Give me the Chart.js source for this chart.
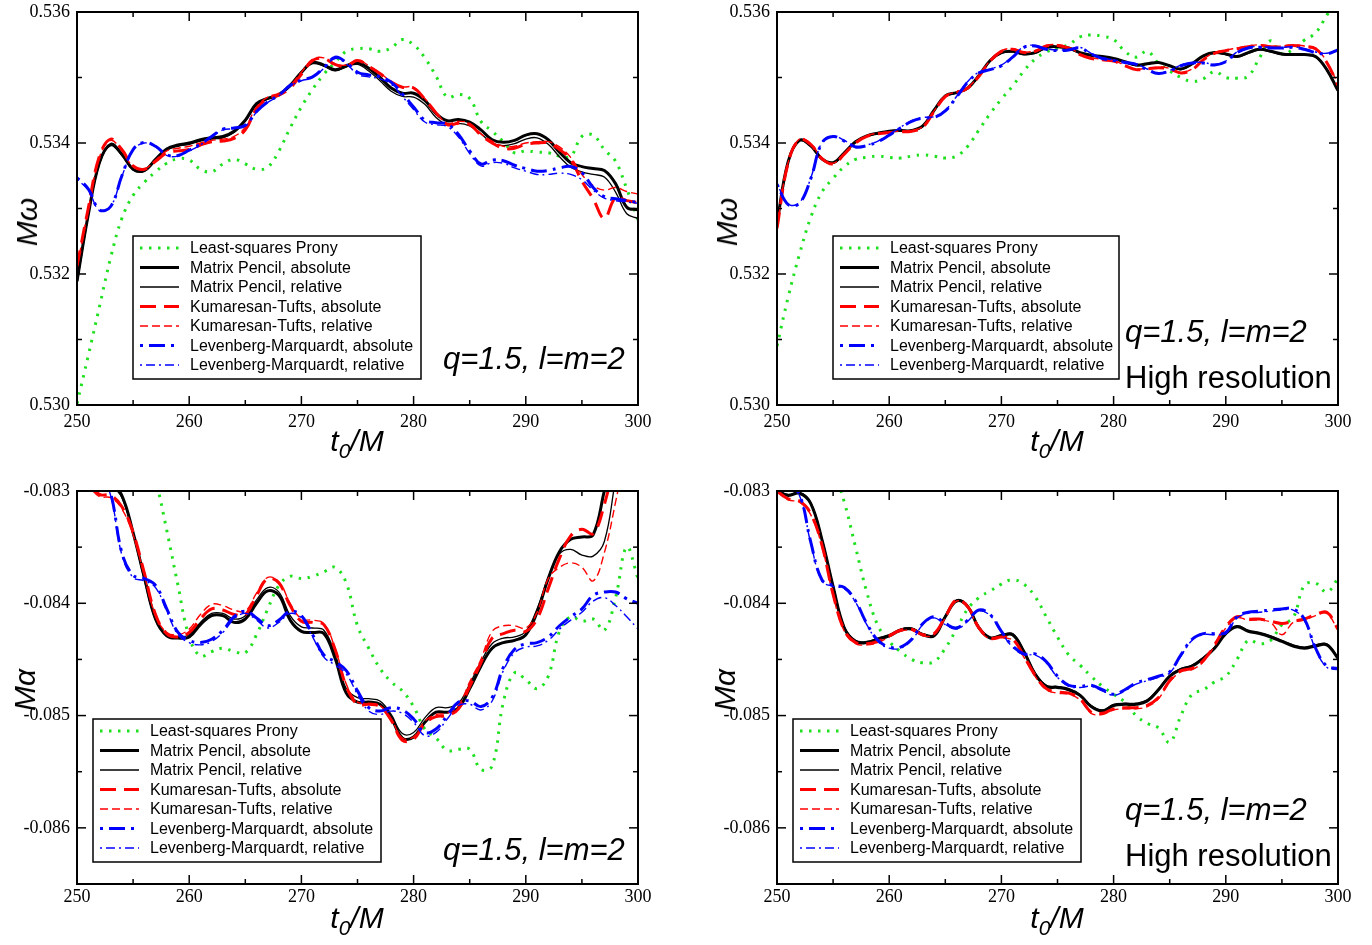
<!DOCTYPE html>
<html><head><meta charset="utf-8">
<script src="https://cdn.jsdelivr.net/npm/chart.js@4/dist/chart.umd.min.js"></script>
<style>
html,body{margin:0;padding:0;background:#fff;}
body{width:1372px;height:945px;position:relative;overflow:hidden;font-family:"Liberation Sans",Arial,sans-serif;}
canvas{position:absolute;}
.ytitle{position:absolute;font-size:30px;font-style:italic;transform:translate(-50%,-50%) rotate(-90deg);white-space:nowrap;line-height:1;}
.xtitle{position:absolute;font-size:30px;font-style:italic;transform:translate(-50%,-50%);white-space:nowrap;line-height:1;}
.xtitle sub{font-size:21px;vertical-align:-7px;}
.note{position:absolute;font-size:31px;white-space:nowrap;line-height:1;transform:translateY(-50%);}
.note.i{font-style:italic;}
</style></head>
<body>
<canvas id="c1" width="686" height="470" style="left:0;top:0"></canvas>
<canvas id="c2" width="672" height="470" style="left:700px;top:0"></canvas>
<canvas id="c3" width="686" height="465" style="left:0;top:480px"></canvas>
<canvas id="c4" width="672" height="465" style="left:700px;top:480px"></canvas>

<div class="ytitle" style="left:27px;top:222px">Mω</div>
<div class="ytitle" style="left:727px;top:222px">Mω</div>
<div class="ytitle" style="left:25px;top:690px">Mα</div>
<div class="ytitle" style="left:725px;top:690px">Mα</div>
<div class="xtitle" style="left:357px;top:443px">t<sub>0</sub>/M</div>
<div class="xtitle" style="left:1057px;top:443px">t<sub>0</sub>/M</div>
<div class="xtitle" style="left:357px;top:920px">t<sub>0</sub>/M</div>
<div class="xtitle" style="left:1057px;top:920px">t<sub>0</sub>/M</div>
<div class="note i" style="left:443px;top:358px">q=1.5, l=m=2</div>
<div class="note i" style="left:1125px;top:331px">q=1.5, l=m=2</div>
<div class="note" style="left:1125px;top:377px">High resolution</div>
<div class="note i" style="left:443px;top:849px">q=1.5, l=m=2</div>
<div class="note i" style="left:1125px;top:809px">q=1.5, l=m=2</div>
<div class="note" style="left:1125px;top:855px">High resolution</div>

<script>
// ---------------- data ----------------
const t0 = [250,251,252,253,254,255,256,257,258,259,260,261,262,263,264,265,266,267,268,269,270,271,272,273,274,275,276,277,278,279,280,281,282,283,284,285,286,287,288,289,290,291,292,293,294,295,296,297,298,299,300];
const seriesLabels = ['Least-squares Prony','Matrix Pencil, absolute','Matrix Pencil, relative','Kumaresan-Tufts, absolute','Kumaresan-Tufts, relative','Levenberg-Marquardt, absolute','Levenberg-Marquardt, relative'];
const xMajorTicks = [250,260,270,280,290,300];
const xMinorTicks = [255,265,275,285,295];
const omegaTicks = [0.530,0.532,0.534,0.536];
const omegaMinorTicks = [0.531,0.533,0.535];
const alphaTicks = [-0.086,-0.085,-0.084,-0.083];
const alphaMinorTicks = [-0.0865,-0.0855,-0.0845,-0.0835];

// Top-left: M omega
const tlProny = [0.53002,0.53075,0.53150,0.53225,0.53285,0.53320,0.53340,0.53356,0.53369,0.53376,
0.53374,0.53360,0.53356,0.53368,0.53375,0.53368,0.53360,0.53363,0.53388,0.53423,
0.53455,0.53482,0.53505,0.53523,0.53540,0.53544,0.53544,0.53540,0.53545,0.53558,
0.53550,0.53530,0.53502,0.53470,0.53474,0.53468,0.53433,0.53418,0.53402,0.53385,
0.53388,0.53386,0.53385,0.53380,0.53380,0.53410,0.53412,0.53390,0.53372,0.53330,
0.53283];
const tlMPabs = [0.53189,0.53290,0.53370,0.53398,0.53383,0.53360,0.53358,0.53375,0.53391,0.53397,
0.53400,0.53405,0.53408,0.53410,0.53418,0.53435,0.53460,0.53468,0.53474,0.53488,
0.53508,0.53523,0.53519,0.53512,0.53518,0.53523,0.53514,0.53500,0.53484,0.53476,
0.53476,0.53465,0.53445,0.53434,0.53436,0.53432,0.53420,0.53405,0.53401,0.53404,
0.53412,0.53414,0.53405,0.53386,0.53370,0.53364,0.53361,0.53358,0.53338,0.53302,
0.53298];
const tlMPrel = [0.53185,0.53288,0.53368,0.53396,0.53381,0.53359,0.53357,0.53373,0.53389,0.53395,
0.53398,0.53403,0.53406,0.53408,0.53416,0.53433,0.53458,0.53467,0.53473,0.53486,
0.53506,0.53521,0.53517,0.53510,0.53516,0.53520,0.53510,0.53495,0.53479,0.53471,
0.53470,0.53459,0.53439,0.53428,0.53430,0.53426,0.53414,0.53400,0.53396,0.53399,
0.53406,0.53408,0.53398,0.53379,0.53363,0.53356,0.53352,0.53348,0.53325,0.53292,
0.53285];
const tlKTabs = [0.53212,0.53300,0.53380,0.53406,0.53390,0.53365,0.53360,0.53372,0.53385,0.53388,
0.53390,0.53397,0.53402,0.53403,0.53407,0.53420,0.53452,0.53468,0.53473,0.53484,
0.53505,0.53526,0.53529,0.53520,0.53517,0.53526,0.53517,0.53506,0.53493,0.53485,
0.53484,0.53467,0.53446,0.53428,0.53430,0.53428,0.53412,0.53400,0.53392,0.53392,
0.53398,0.53400,0.53400,0.53390,0.53375,0.53342,0.53315,0.53285,0.53316,0.53312,
0.53309];
const tlKTrel = [0.53210,0.53298,0.53378,0.53404,0.53388,0.53364,0.53360,0.53374,0.53388,0.53392,
0.53395,0.53400,0.53404,0.53406,0.53410,0.53424,0.53455,0.53470,0.53476,0.53488,
0.53508,0.53528,0.53530,0.53521,0.53519,0.53527,0.53518,0.53507,0.53494,0.53486,
0.53485,0.53468,0.53447,0.53430,0.53433,0.53430,0.53414,0.53403,0.53395,0.53395,
0.53400,0.53402,0.53402,0.53394,0.53378,0.53352,0.53335,0.53328,0.53332,0.53326,
0.53322];
const tlLMabs = [0.53347,0.53330,0.53298,0.53303,0.53350,0.53390,0.53401,0.53395,0.53382,0.53381,
0.53389,0.53398,0.53410,0.53421,0.53423,0.53427,0.53448,0.53463,0.53473,0.53488,
0.53496,0.53501,0.53515,0.53531,0.53523,0.53508,0.53504,0.53501,0.53493,0.53475,
0.53455,0.53435,0.53431,0.53429,0.53413,0.53388,0.53368,0.53374,0.53373,0.53366,
0.53361,0.53357,0.53358,0.53362,0.53364,0.53355,0.53332,0.53318,0.53315,0.53312,
0.53309];
const tlLMrel = [0.53345,0.53328,0.53297,0.53303,0.53349,0.53389,0.53400,0.53394,0.53381,0.53380,
0.53388,0.53397,0.53409,0.53420,0.53422,0.53426,0.53447,0.53462,0.53472,0.53487,
0.53495,0.53500,0.53514,0.53529,0.53521,0.53505,0.53501,0.53498,0.53490,0.53471,
0.53451,0.53432,0.53428,0.53425,0.53409,0.53384,0.53365,0.53370,0.53369,0.53362,
0.53357,0.53352,0.53352,0.53354,0.53352,0.53344,0.53328,0.53316,0.53312,0.53310,
0.53308];

// Top-right: M omega, high resolution
const trProny = [0.53090,0.53165,0.53230,0.53286,0.53325,0.53346,0.53364,0.53375,0.53378,0.53380,
0.53378,0.53377,0.53380,0.53382,0.53380,0.53377,0.53380,0.53395,0.53420,0.53445,
0.53467,0.53487,0.53510,0.53528,0.53539,0.53545,0.53550,0.53562,0.53565,0.53563,
0.53558,0.53540,0.53531,0.53540,0.53522,0.53510,0.53500,0.53494,0.53498,0.53509,
0.53500,0.53499,0.53502,0.53530,0.53556,0.53536,0.53543,0.53557,0.53568,0.53595,
0.53620];
const trMPabs = [0.53278,0.53372,0.53404,0.53396,0.53376,0.53370,0.53385,0.53402,0.53411,0.53415,
0.53418,0.53419,0.53419,0.53426,0.53450,0.53472,0.53477,0.53484,0.53503,0.53526,
0.53538,0.53540,0.53536,0.53538,0.53546,0.53547,0.53545,0.53538,0.53534,0.53532,
0.53529,0.53524,0.53519,0.53521,0.53523,0.53518,0.53513,0.53521,0.53533,0.53538,
0.53536,0.53532,0.53538,0.53543,0.53540,0.53536,0.53535,0.53535,0.53532,0.53512,
0.53480];
const trMPrel = [0.53276,0.53370,0.53403,0.53395,0.53375,0.53369,0.53384,0.53401,0.53410,0.53414,
0.53417,0.53418,0.53418,0.53425,0.53449,0.53471,0.53476,0.53483,0.53502,0.53525,
0.53537,0.53539,0.53535,0.53537,0.53545,0.53546,0.53544,0.53537,0.53533,0.53531,
0.53528,0.53523,0.53518,0.53520,0.53522,0.53517,0.53512,0.53520,0.53532,0.53537,
0.53535,0.53531,0.53537,0.53542,0.53539,0.53535,0.53534,0.53534,0.53531,0.53511,
0.53479];
const trKTabs = [0.53270,0.53370,0.53405,0.53398,0.53376,0.53368,0.53383,0.53400,0.53410,0.53414,
0.53416,0.53417,0.53418,0.53424,0.53448,0.53471,0.53477,0.53484,0.53502,0.53525,
0.53540,0.53543,0.53538,0.53540,0.53548,0.53549,0.53545,0.53535,0.53529,0.53527,
0.53525,0.53518,0.53512,0.53513,0.53515,0.53513,0.53507,0.53512,0.53527,0.53537,
0.53541,0.53544,0.53547,0.53549,0.53547,0.53547,0.53549,0.53547,0.53544,0.53523,
0.53488];
const trKTrel = [0.53272,0.53371,0.53406,0.53399,0.53377,0.53369,0.53384,0.53401,0.53411,0.53415,
0.53417,0.53418,0.53419,0.53425,0.53449,0.53472,0.53478,0.53485,0.53503,0.53526,
0.53541,0.53544,0.53539,0.53541,0.53549,0.53550,0.53546,0.53536,0.53530,0.53528,
0.53526,0.53519,0.53513,0.53514,0.53516,0.53514,0.53508,0.53513,0.53528,0.53538,
0.53542,0.53545,0.53548,0.53550,0.53548,0.53548,0.53550,0.53548,0.53545,0.53524,
0.53490];
const trLMabs = [0.53337,0.53306,0.53308,0.53345,0.53400,0.53410,0.53403,0.53394,0.53396,0.53402,
0.53412,0.53423,0.53433,0.53438,0.53439,0.53449,0.53470,0.53493,0.53507,0.53512,
0.53518,0.53531,0.53546,0.53548,0.53543,0.53541,0.53542,0.53545,0.53536,0.53529,
0.53526,0.53523,0.53520,0.53512,0.53506,0.53510,0.53518,0.53522,0.53522,0.53519,
0.53524,0.53538,0.53545,0.53546,0.53545,0.53545,0.53546,0.53543,0.53538,0.53536,
0.53542];
const trLMrel = [0.53338,0.53307,0.53309,0.53346,0.53401,0.53411,0.53404,0.53395,0.53397,0.53403,
0.53413,0.53424,0.53434,0.53439,0.53440,0.53450,0.53471,0.53494,0.53508,0.53513,
0.53519,0.53532,0.53547,0.53549,0.53544,0.53542,0.53543,0.53546,0.53537,0.53530,
0.53527,0.53524,0.53521,0.53513,0.53507,0.53511,0.53519,0.53523,0.53523,0.53520,
0.53525,0.53539,0.53546,0.53547,0.53546,0.53546,0.53547,0.53544,0.53539,0.53537,
0.53543];

// Bottom-left: M alpha
const blProny = [-0.08100,-0.08120,-0.08140,-0.08170,-0.08200,-0.08230,-0.08260,-0.08290,-0.08335,-0.08384,
-0.08430,-0.08447,-0.08443,-0.08440,-0.08443,-0.08444,-0.08428,-0.08405,-0.08384,-0.08376,
-0.08378,-0.08376,-0.08372,-0.08368,-0.08382,-0.08420,-0.08440,-0.08458,-0.08470,-0.08478,
-0.08492,-0.08512,-0.08520,-0.08531,-0.08530,-0.08530,-0.08548,-0.08545,-0.08488,-0.08462,
-0.08468,-0.08476,-0.08465,-0.08425,-0.08412,-0.08416,-0.08414,-0.08424,-0.08395,-0.08350,
-0.08378];
const blMPabs = [-0.08270,-0.08278,-0.08285,-0.08292,-0.08304,-0.08337,-0.08377,-0.08414,-0.08429,-0.08431,
-0.08430,-0.08419,-0.08411,-0.08411,-0.08417,-0.08414,-0.08400,-0.08389,-0.08393,-0.08415,
-0.08425,-0.08426,-0.08427,-0.08449,-0.08480,-0.08488,-0.08488,-0.08490,-0.08502,-0.08520,
-0.08519,-0.08506,-0.08497,-0.08497,-0.08493,-0.08476,-0.08456,-0.08440,-0.08435,-0.08433,
-0.08428,-0.08408,-0.08378,-0.08354,-0.08343,-0.08341,-0.08339,-0.08300,-0.08260,-0.08230,
-0.08200];
const blMPrel = [-0.08270,-0.08278,-0.08286,-0.08294,-0.08306,-0.08338,-0.08379,-0.08415,-0.08429,-0.08430,
-0.08428,-0.08417,-0.08409,-0.08409,-0.08414,-0.08411,-0.08397,-0.08386,-0.08390,-0.08411,
-0.08421,-0.08422,-0.08424,-0.08445,-0.08476,-0.08484,-0.08485,-0.08487,-0.08499,-0.08516,
-0.08515,-0.08502,-0.08493,-0.08493,-0.08489,-0.08472,-0.08452,-0.08436,-0.08431,-0.08430,
-0.08425,-0.08405,-0.08377,-0.08356,-0.08352,-0.08357,-0.08358,-0.08345,-0.08290,-0.08240,
-0.08200];
const blKTabs = [-0.08282,-0.08292,-0.08303,-0.08304,-0.08314,-0.08337,-0.08373,-0.08410,-0.08427,-0.08430,
-0.08426,-0.08414,-0.08405,-0.08406,-0.08410,-0.08410,-0.08393,-0.08378,-0.08382,-0.08402,
-0.08416,-0.08417,-0.08419,-0.08441,-0.08474,-0.08490,-0.08490,-0.08492,-0.08504,-0.08522,
-0.08521,-0.08507,-0.08501,-0.08500,-0.08494,-0.08474,-0.08453,-0.08431,-0.08427,-0.08424,
-0.08425,-0.08414,-0.08387,-0.08360,-0.08340,-0.08334,-0.08338,-0.08312,-0.08270,-0.08230,
-0.08200];
const blKTrel = [-0.08285,-0.08295,-0.08305,-0.08306,-0.08316,-0.08339,-0.08375,-0.08411,-0.08426,-0.08428,
-0.08423,-0.08410,-0.08401,-0.08402,-0.08406,-0.08407,-0.08391,-0.08377,-0.08381,-0.08400,
-0.08414,-0.08415,-0.08418,-0.08440,-0.08472,-0.08488,-0.08489,-0.08491,-0.08503,-0.08520,
-0.08519,-0.08505,-0.08499,-0.08498,-0.08491,-0.08470,-0.08450,-0.08425,-0.08420,-0.08420,
-0.08422,-0.08408,-0.08378,-0.08368,-0.08364,-0.08368,-0.08380,-0.08355,-0.08310,-0.08260,
-0.08220];
const blLMabs = [-0.08250,-0.08260,-0.08280,-0.08302,-0.08355,-0.08375,-0.08378,-0.08384,-0.08405,-0.08426,
-0.08433,-0.08435,-0.08432,-0.08424,-0.08412,-0.08407,-0.08413,-0.08420,-0.08415,-0.08407,
-0.08411,-0.08428,-0.08446,-0.08452,-0.08460,-0.08478,-0.08493,-0.08496,-0.08493,-0.08495,
-0.08503,-0.08515,-0.08512,-0.08500,-0.08488,-0.08487,-0.08492,-0.08484,-0.08457,-0.08441,
-0.08436,-0.08435,-0.08430,-0.08420,-0.08412,-0.08405,-0.08393,-0.08390,-0.08390,-0.08396,
-0.08400];
const blLMrel = [-0.08250,-0.08262,-0.08282,-0.08304,-0.08357,-0.08377,-0.08380,-0.08386,-0.08407,-0.08428,
-0.08435,-0.08437,-0.08434,-0.08426,-0.08414,-0.08409,-0.08415,-0.08422,-0.08417,-0.08409,
-0.08413,-0.08430,-0.08448,-0.08455,-0.08463,-0.08481,-0.08496,-0.08499,-0.08496,-0.08498,
-0.08506,-0.08518,-0.08515,-0.08503,-0.08491,-0.08490,-0.08495,-0.08487,-0.08460,-0.08444,
-0.08439,-0.08438,-0.08433,-0.08423,-0.08415,-0.08408,-0.08398,-0.08395,-0.08402,-0.08412,
-0.08423];

// Bottom-right: M alpha, high resolution
const brProny = [-0.08150,-0.08170,-0.08190,-0.08220,-0.08250,-0.08280,-0.08310,-0.08350,-0.08390,-0.08420,
-0.08434,-0.08443,-0.08450,-0.08453,-0.08452,-0.08440,-0.08423,-0.08405,-0.08395,-0.08389,
-0.08383,-0.08379,-0.08383,-0.08394,-0.08412,-0.08430,-0.08446,-0.08455,-0.08465,-0.08474,
-0.08481,-0.08488,-0.08500,-0.08507,-0.08511,-0.08524,-0.08500,-0.08481,-0.08477,-0.08470,
-0.08465,-0.08450,-0.08433,-0.08436,-0.08433,-0.08419,-0.08413,-0.08384,-0.08382,-0.08390,
-0.08378];
const brMPabs = [-0.08300,-0.08304,-0.08302,-0.08311,-0.08343,-0.08385,-0.08422,-0.08434,-0.08435,-0.08432,
-0.08429,-0.08424,-0.08423,-0.08428,-0.08429,-0.08412,-0.08398,-0.08403,-0.08422,-0.08431,
-0.08429,-0.08428,-0.08443,-0.08463,-0.08474,-0.08475,-0.08477,-0.08482,-0.08492,-0.08496,
-0.08491,-0.08490,-0.08490,-0.08487,-0.08477,-0.08465,-0.08459,-0.08456,-0.08449,-0.08440,
-0.08427,-0.08421,-0.08425,-0.08427,-0.08430,-0.08434,-0.08438,-0.08440,-0.08438,-0.08437,
-0.08449];
const brMPrel = [-0.08299,-0.08303,-0.08301,-0.08310,-0.08342,-0.08384,-0.08421,-0.08433,-0.08434,-0.08431,
-0.08428,-0.08423,-0.08422,-0.08427,-0.08428,-0.08411,-0.08397,-0.08402,-0.08421,-0.08430,
-0.08428,-0.08427,-0.08442,-0.08462,-0.08473,-0.08474,-0.08476,-0.08481,-0.08491,-0.08495,
-0.08490,-0.08489,-0.08489,-0.08486,-0.08476,-0.08464,-0.08458,-0.08455,-0.08448,-0.08439,
-0.08426,-0.08420,-0.08424,-0.08426,-0.08429,-0.08433,-0.08437,-0.08439,-0.08437,-0.08436,
-0.08448];
const brKTabs = [-0.08300,-0.08307,-0.08309,-0.08320,-0.08348,-0.08392,-0.08424,-0.08435,-0.08436,-0.08434,
-0.08429,-0.08424,-0.08423,-0.08428,-0.08427,-0.08412,-0.08397,-0.08403,-0.08422,-0.08431,
-0.08430,-0.08432,-0.08447,-0.08464,-0.08476,-0.08479,-0.08480,-0.08485,-0.08497,-0.08498,
-0.08494,-0.08493,-0.08493,-0.08491,-0.08484,-0.08469,-0.08460,-0.08458,-0.08451,-0.08437,
-0.08421,-0.08412,-0.08414,-0.08414,-0.08416,-0.08418,-0.08416,-0.08414,-0.08410,-0.08408,
-0.08423];
const brKTrel = [-0.08301,-0.08308,-0.08310,-0.08321,-0.08349,-0.08393,-0.08425,-0.08436,-0.08437,-0.08435,
-0.08430,-0.08425,-0.08424,-0.08429,-0.08428,-0.08413,-0.08398,-0.08404,-0.08423,-0.08432,
-0.08431,-0.08433,-0.08448,-0.08465,-0.08477,-0.08480,-0.08481,-0.08486,-0.08498,-0.08499,
-0.08495,-0.08494,-0.08494,-0.08492,-0.08485,-0.08470,-0.08461,-0.08459,-0.08452,-0.08438,
-0.08422,-0.08413,-0.08415,-0.08415,-0.08417,-0.08428,-0.08417,-0.08415,-0.08411,-0.08409,
-0.08424];
const brLMabs = [-0.08295,-0.08295,-0.08303,-0.08345,-0.08379,-0.08384,-0.08386,-0.08398,-0.08418,-0.08433,
-0.08439,-0.08439,-0.08432,-0.08418,-0.08412,-0.08418,-0.08422,-0.08415,-0.08406,-0.08410,
-0.08425,-0.08438,-0.08445,-0.08445,-0.08452,-0.08465,-0.08473,-0.08474,-0.08473,-0.08477,
-0.08481,-0.08477,-0.08471,-0.08468,-0.08465,-0.08461,-0.08446,-0.08432,-0.08427,-0.08427,
-0.08426,-0.08412,-0.08408,-0.08407,-0.08406,-0.08405,-0.08405,-0.08414,-0.08440,-0.08456,
-0.08458];
const brLMrel = [-0.08296,-0.08296,-0.08304,-0.08346,-0.08380,-0.08385,-0.08387,-0.08399,-0.08419,-0.08434,
-0.08440,-0.08440,-0.08433,-0.08419,-0.08413,-0.08419,-0.08423,-0.08416,-0.08407,-0.08411,
-0.08426,-0.08439,-0.08446,-0.08446,-0.08453,-0.08466,-0.08474,-0.08475,-0.08474,-0.08478,
-0.08482,-0.08478,-0.08472,-0.08469,-0.08466,-0.08462,-0.08447,-0.08433,-0.08428,-0.08428,
-0.08427,-0.08413,-0.08409,-0.08408,-0.08407,-0.08406,-0.08406,-0.08415,-0.08441,-0.08457,
-0.08459];

// ---------------- styles ----------------
const lineStyles = [
  {color:'#1fe01f', width:3,   dash:[2.5,6.5]},
  {color:'#000000', width:3,   dash:[]},
  {color:'#000000', width:1.3, dash:[]},
  {color:'#ff0000', width:3,   dash:[16,8]},
  {color:'#ff0000', width:1.4, dash:[8,4]},
  {color:'#0000ff', width:3,   dash:[3,6,16,6]},
  {color:'#0000ff', width:1.4, dash:[2,4,9,4]}
];

const frameTicks = {
  id:'frameTicks',
  afterDraw(chart, args, o){
    const {ctx, chartArea:{left,right,top,bottom}, scales:{x,y}} = chart;
    ctx.save();
    ctx.strokeStyle = '#000';
    ctx.lineWidth = 1.5;
    const seg = (a,b,c,d)=>{ctx.beginPath();ctx.moveTo(a,b);ctx.lineTo(c,d);ctx.stroke();};
    const MAJ = 9, MIN = 5;
    o.xMajor.forEach(v=>{const p=x.getPixelForValue(v); seg(p,bottom,p,bottom-MAJ); seg(p,top,p,top+MAJ);});
    o.xMinor.forEach(v=>{const p=x.getPixelForValue(v); seg(p,bottom,p,bottom-MIN); seg(p,top,p,top+MIN);});
    o.yMajor.forEach(v=>{const p=y.getPixelForValue(v); seg(left,p,left+MAJ,p); seg(right,p,right-MAJ,p);});
    o.yMinor.forEach(v=>{const p=y.getPixelForValue(v); seg(left,p,left+MIN,p); seg(right,p,right-MIN,p);});
    ctx.lineWidth = 2;
    ctx.strokeRect(left,top,right-left,bottom-top);
    // legend box
    const L = o.legend;
    const x0 = left + L.dx, y0 = top + L.dy;
    ctx.fillStyle = '#fff';
    ctx.fillRect(x0,y0,L.w,L.h);
    ctx.lineWidth = 1.5;
    ctx.strokeRect(x0,y0,L.w,L.h);
    chart.data.datasets.forEach((ds,i)=>{
      const yy = y0 + 12 + i*19.5;
      ctx.beginPath();
      ctx.setLineDash(ds.borderDash||[]);
      ctx.lineWidth = ds.borderWidth;
      ctx.strokeStyle = ds.borderColor;
      ctx.moveTo(x0+7,yy); ctx.lineTo(x0+46,yy); ctx.stroke();
      ctx.setLineDash([]);
      ctx.fillStyle = '#000';
      ctx.font = '16px "Liberation Sans", Arial, sans-serif';
      ctx.textBaseline = 'middle';
      ctx.textAlign = 'left';
      ctx.fillText(ds.label, x0+57, yy+1);
    });
    ctx.restore();
  }
};

function makeChart(id, seriesList, yMin, yMax, yMajor, yMinor, pad, xAxisH, xPad, legend){
  const datasets = seriesList.map((arr,i)=>{
    if(arr.length !== t0.length) throw new Error(id+' series '+i+' length '+arr.length);
    const s = lineStyles[i];
    return {
      label: seriesLabels[i],
      data: arr.map((v,k)=>({x:t0[k], y:v})),
      borderColor: s.color, backgroundColor: s.color,
      borderWidth: s.width, borderDash: s.dash,
      pointRadius: 0, tension: 0.4, fill: false,
      order: 6 - i
    };
  });
  const tickFont = {family:'"Liberation Serif", "Times New Roman", serif', size:18};
  return new Chart(document.getElementById(id), {
    type:'line',
    data:{datasets},
    options:{
      responsive:false, animation:false, devicePixelRatio:1,
      layout:{padding:pad},
      plugins:{legend:{display:false}, tooltip:{enabled:false}, title:{display:false},
        frameTicks:{xMajor:xMajorTicks, xMinor:xMinorTicks, yMajor, yMinor, legend}},
      scales:{
        x:{type:'linear', min:250, max:300,
           afterBuildTicks:s=>{s.ticks = xMajorTicks.map(v=>({value:v}));},
           afterFit:s=>{s.height = xAxisH; s.paddingLeft = 0; s.paddingRight = 0;},
           grid:{display:false, drawTicks:false}, border:{display:false},
           ticks:{padding:xPad, color:'#000', font:tickFont, maxRotation:0, autoSkip:false, callback:v=>String(v)}},
        y:{type:'linear', min:yMin, max:yMax,
           afterBuildTicks:s=>{s.ticks = yMajor.map(v=>({value:v}));},
           afterFit:s=>{s.width = 77; s.paddingTop = 0; s.paddingBottom = 0;},
           grid:{display:false, drawTicks:false}, border:{display:false},
           ticks:{padding:7, color:'#000', font:tickFont, autoSkip:false, callback:v=>v.toFixed(3)}}
      }
    },
    plugins:[frameTicks]
  });
}

makeChart('c1', [tlProny,tlMPabs,tlMPrel,tlKTabs,tlKTrel,tlLMabs,tlLMrel], 0.530, 0.536, omegaTicks, omegaMinorTicks,
  {top:12,right:48,left:0,bottom:0}, 65, 6, {dx:56, dy:224, w:288, h:143});
makeChart('c2', [trProny,trMPabs,trMPrel,trKTabs,trKTrel,trLMabs,trLMrel], 0.530, 0.536, omegaTicks, omegaMinorTicks,
  {top:12,right:34,left:0,bottom:0}, 65, 6, {dx:56, dy:224, w:286, h:143});
makeChart('c3', [blProny,blMPabs,blMPrel,blKTabs,blKTrel,blLMabs,blLMrel], -0.0865, -0.083, alphaTicks, alphaMinorTicks,
  {top:11,right:48,left:0,bottom:0}, 61, 2, {dx:16, dy:228, w:288, h:143});
makeChart('c4', [brProny,brMPabs,brMPrel,brKTabs,brKTrel,brLMabs,brLMrel], -0.0865, -0.083, alphaTicks, alphaMinorTicks,
  {top:11,right:34,left:0,bottom:0}, 61, 2, {dx:16, dy:228, w:288, h:143});
</script>
</body></html>
